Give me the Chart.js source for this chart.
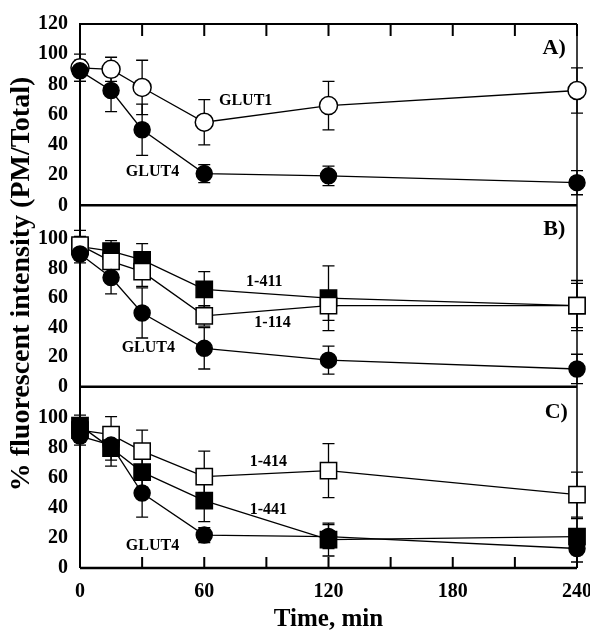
<!DOCTYPE html>
<html>
<head>
<meta charset="utf-8">
<script src="https://cdn.jsdelivr.net/npm/chart.js@4.4.0/dist/chart.umd.min.js"></script>
<style>
  html, body { margin: 0; padding: 0; background: #fff; }
  #wrap { width: 590px; height: 637px; }
</style>
</head>
<body>
<div id="wrap"><canvas id="glutChart"></canvas></div>
<script>
// time points (min)
var times = [0, 15, 30, 60, 120, 240];
var xTickMarks = [0, 30, 60, 90, 120, 150, 180, 210, 240];
var xTickLabels = [0, 60, 120, 180, 240];
var yTicksA = [0, 20, 40, 60, 80, 100, 120];
var yTicksBC = [0, 20, 40, 60, 80, 100];

// panel A
var glut1A = [91, 90, 78, 55, 66, 76];
var glut1AErr = [9, 8, 18, 15, 16, 15];
var glut4A = [89, 76, 50, 21, 19.5, 15];
var glut4AErr = [7, 14, 17, 6, 6.5, 8];

// panel B
var glut4B = [90, 74, 50, 26, 18, 12];
var glut4BErr = [6, 11, 17, 14, 9.5, 10];
var m411 = [95, 92, 86, 66, 60, 55];
var m411Err = [7, 7, 11, 12, 22, 15];
var m114 = [96, 85, 78, 48, 55, 55];
var m114Err = [10, 8, 10, 7, 10, 17];

// panel C
var glut4C = [88, 82, 50, 22, 21, 13];
var glut4CErr = [6, 10, 16, 5, 8, 9];
var m441 = [95, 80, 64, 45, 19, 21];
var m441Err = [7, 12, 10, 14, 11, 12];
var m414 = [92, 89, 78, 61, 65, 49];
var m414Err = [8, 12, 14, 17, 18, 15];

// text labels inside the panels (axis, text, minutes, value, size)
var notes = [
    ['yA', 'GLUT1', 80, 69, 16], ['yA', 'GLUT4', 35, 22, 16], ['yA', 'A)', 229, 104, 22],
    ['yB', '1-411', 89, 71, 16], ['yB', '1-114', 93, 43, 16], ['yB', 'GLUT4', 33, 26, 16], ['yB', 'B)', 229, 107, 22],
    ['yC', '1-414', 91, 71, 16], ['yC', '1-441', 91, 39, 16], ['yC', 'GLUT4', 35, 15, 16], ['yC', 'C)', 230, 104, 22]
];

var FONT = '"Liberation Serif", "Times New Roman", serif';

function pts(vals) {
    return times.map(function (t, i) { return { x: t, y: vals[i] }; });
}

function series(label, vals, errs, axis, style, filled, radius) {
    return {
        label: label,
        data: pts(vals),
        errors: errs,
        yAxisID: axis,
        borderColor: '#000',
        borderWidth: 1.3,
        pointStyle: style,
        pointRadius: radius,
        pointHoverRadius: radius,
        pointBackgroundColor: filled ? '#000' : '#fff',
        pointBorderColor: '#000',
        pointBorderWidth: 1.5,
        clip: false,
        tension: 0
    };
}

function yScale(max, tickList) {
    return {
        type: 'linear',
        position: 'left',
        stack: 'panels',
        stackWeight: 1,
        min: 0,
        max: max,
        grid: { display: false, drawTicks: false },
        border: { display: false },
        afterBuildTicks: function (s) {
            s.ticks = tickList.map(function (v) { return { value: v }; });
        },
        afterFit: function (s) { s.width = 80; },
        ticks: {
            autoSkip: false,
            padding: 12,
            color: '#000',
            font: { family: FONT, size: 20, weight: 'bold' }
        }
    };
}

var decor = {
    id: 'decor',
    beforeDatasetsDraw: function (chart) {
        var ctx = chart.ctx, xs = chart.scales.x, a = chart.chartArea;
        ctx.save();
        ctx.strokeStyle = '#000';
        // error bars
        ctx.lineWidth = 1.3;
        chart.data.datasets.forEach(function (ds) {
            var ys = chart.scales[ds.yAxisID];
            ds.data.forEach(function (p, j) {
                var e = ds.errors[j];
                var px = xs.getPixelForValue(p.x);
                var t = ys.getPixelForValue(p.y + e);
                var b = ys.getPixelForValue(p.y - e);
                ctx.beginPath();
                ctx.moveTo(px, t); ctx.lineTo(px, b);
                ctx.moveTo(px - 6, t); ctx.lineTo(px + 6, t);
                ctx.moveTo(px - 6, b); ctx.lineTo(px + 6, b);
                ctx.stroke();
            });
        });
        // panel frames
        ctx.lineWidth = 2.5;
        ['yA', 'yB', 'yC'].forEach(function (id) {
            var s = chart.scales[id];
            var y0 = s.getPixelForValue(0);
            ctx.beginPath(); ctx.moveTo(a.left, y0); ctx.lineTo(a.right, y0); ctx.stroke();
        });
        ctx.lineWidth = 2;
        ctx.beginPath(); ctx.moveTo(a.left - 1, a.top); ctx.lineTo(a.right, a.top); ctx.stroke();
        ctx.beginPath(); ctx.moveTo(a.left, a.top); ctx.lineTo(a.left, a.bottom); ctx.stroke();
        ctx.lineWidth = 1.5;
        ctx.beginPath(); ctx.moveTo(a.right, a.top); ctx.lineTo(a.right, a.bottom); ctx.stroke();
        // inward tick marks, top and bottom
        ctx.lineWidth = 2;
        xTickMarks.forEach(function (v) {
            var px = xs.getPixelForValue(v);
            ctx.beginPath();
            ctx.moveTo(px, a.top); ctx.lineTo(px, a.top + 12);
            ctx.moveTo(px, a.bottom); ctx.lineTo(px, a.bottom - 11);
            ctx.stroke();
        });
        ctx.restore();
    },
    afterDraw: function (chart) {
        var ctx = chart.ctx, xs = chart.scales.x, a = chart.chartArea;
        ctx.save();
        ctx.fillStyle = '#000';
        ctx.textAlign = 'center';
        ctx.textBaseline = 'middle';
        notes.forEach(function (n) {
            ctx.font = 'bold ' + n[4] + 'px ' + FONT;
            ctx.fillText(n[1], xs.getPixelForValue(n[2]), chart.scales[n[0]].getPixelForValue(n[3]));
        });
        // axis titles
        ctx.font = 'bold 25px ' + FONT;
        ctx.fillText('Time, min', (a.left + a.right) / 2, 620);
        ctx.translate(22, 284);
        ctx.rotate(-Math.PI / 2);
        ctx.font = 'bold 28px ' + FONT;
        ctx.fillText('% fluorescent intensity (PM/Total)', 0, 0);
        ctx.restore();
    }
};

new Chart(document.getElementById('glutChart'), {
    type: 'line',
    data: {
        datasets: [
            series('GLUT4 (A)', glut4A, glut4AErr, 'yA', 'circle', true, 8),
            series('GLUT1', glut1A, glut1AErr, 'yA', 'circle', false, 9),
            series('GLUT4 (B)', glut4B, glut4BErr, 'yB', 'circle', true, 8),
            series('1-114', m114, m114Err, 'yB', 'rect', false, 11.5),
            series('1-411', m411, m411Err, 'yB', 'rect', true, 11.5),
            series('GLUT4 (C)', glut4C, glut4CErr, 'yC', 'circle', true, 8),
            series('1-441', m441, m441Err, 'yC', 'rect', true, 11.5),
            series('1-414', m414, m414Err, 'yC', 'rect', false, 11.5)
        ]
    },
    options: {
        responsive: true,
        maintainAspectRatio: false,
        animation: false,
        layout: { padding: { top: 22, right: 13, left: 0, bottom: 0 } },
        plugins: { legend: { display: false }, tooltip: { enabled: false } },
        scales: {
            x: {
                type: 'linear',
                min: 0,
                max: 240,
                grid: { display: false, drawTicks: false },
                border: { display: false },
                afterBuildTicks: function (s) {
                    s.ticks = xTickLabels.map(function (v) { return { value: v }; });
                },
                afterFit: function (s) {
                    s.height = 69;
                    s.paddingLeft = 0;
                    s.paddingRight = 0;
                },
                ticks: {
                    autoSkip: false,
                    padding: 12,
                    color: '#000',
                    maxRotation: 0,
                    font: { family: FONT, size: 20, weight: 'bold' }
                }
            },
            yC: yScale(121, yTicksBC),
            yB: yScale(123, yTicksBC),
            yA: yScale(120, yTicksA)
        }
    },
    plugins: [decor]
});
</script>
</body>
</html>
